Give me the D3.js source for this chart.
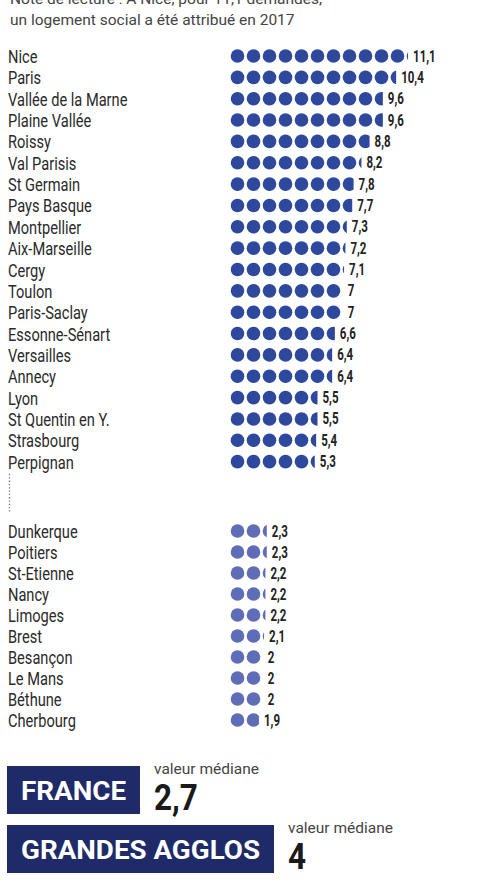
<!DOCTYPE html>
<html lang="fr">
<head>
  <meta charset="UTF-8">
  <title>Demandes par logement social attribué</title>
  <script src="https://d3js.org/d3.v7.min.js"></script>
  <style>
    body { margin: 0; background: #fff; }
  </style>
</head>
<body>
  <svg id="chart" width="494" height="882"></svg>

  <script>
    // Top group (highest ratios)
    const topNames = ['Nice', 'Paris', 'Vallée de la Marne', 'Plaine Vallée', 'Roissy', 'Val Parisis',
      'St Germain', 'Pays Basque', 'Montpellier', 'Aix-Marseille', 'Cergy', 'Toulon', 'Paris-Saclay',
      'Essonne-Sénart', 'Versailles', 'Annecy', 'Lyon', 'St Quentin en Y.', 'Strasbourg', 'Perpignan'];
    const topValues = [11.1, 10.4, 9.6, 9.6, 8.8, 8.2, 7.8, 7.7, 7.3, 7.2, 7.1, 7, 7, 6.6, 6.4, 6.4, 5.5, 5.5, 5.4, 5.3];

    // Bottom group (lowest ratios)
    const lowNames = ['Dunkerque', 'Poitiers', 'St-Etienne', 'Nancy', 'Limoges', 'Brest',
      'Besançon', 'Le Mans', 'Béthune', 'Cherbourg'];
    const lowValues = [2.3, 2.3, 2.2, 2.2, 2.2, 2.1, 2, 2, 2, 1.9];

    const medianLabels = ['FRANCE', 'GRANDES AGGLOS'];
    const medianValues = [2.7, 4];

    const noteLines = ['Note de lecture : A Nice, pour 11,1 demandes,',
      'un logement social a été attribué en 2017'];

    const fmt = v => String(v).replace('.', ',');

    const svg = d3.select('#chart');

    // note at the top (first line cut by the frame)
    svg.selectAll('text.note')
      .data(noteLines)
      .enter().append('text')
      .attr('class', 'note')
      .attr('x', 10)
      .attr('y', (d, i) => 4 + i * 20.5)
      .style('font-family', 'Roboto, sans-serif')
      .style('font-size', '15.5px')
      .style('fill', '#444')
      .text(d => d);

    // dot geometry
    const r = 6.8;
    const step = 16;
    const cx0 = 237.5;
    const xDot = d3.scaleLinear().domain([0, 1]).range([cx0, cx0 + step]);
    // right end of the last (possibly partial) dot
    const endX = v => xDot(Math.floor(v)) - r + (v - Math.floor(v)) * 2 * r;

    // helper to squeeze a font horizontally
    function condense(sel, factor) {
      sel.attr('transform', function() {
        const x = +d3.select(this).attr('x'), y = +d3.select(this).attr('y');
        return `translate(${x},${y}) scale(${factor},1)`;
      }).attr('x', 0).attr('y', 0);
    }

    function drawGroup(names, values, yStart, rowH, color, id) {
      const y = d3.scaleLinear().domain([0, 1]).range([yStart, yStart + rowH]);
      const g = svg.append('g');
      const rows = g.selectAll('g.row')
        .data(names.map((n, i) => ({ name: n, value: values[i], i })))
        .enter().append('g')
        .attr('class', 'row');

      rows.append('clipPath')
        .attr('id', d => `clip-${id}-${d.i}`)
        .append('rect')
        .attr('x', cx0 - r - 1)
        .attr('y', d => y(d.i) - r - 1)
        .attr('width', d => endX(d.value) - (cx0 - r - 1))
        .attr('height', 2 * r + 2);

      rows.each(function(d) {
        const n = Math.ceil(d.value);
        d3.select(this).append('g')
          .attr('clip-path', `url(#clip-${id}-${d.i})`)
          .selectAll('circle')
          .data(d3.range(n))
          .enter().append('circle')
          .attr('cx', k => xDot(k))
          .attr('cy', y(d.i))
          .attr('r', r)
          .style('fill', color);
      });

      const names_ = rows.append('text')
        .attr('x', 8)
        .attr('y', d => y(d.i) + 7)
        .style('font-family', 'Roboto, sans-serif')
        .style('font-size', '19px')
        .style('fill', '#2a2a2a')
        .text(d => d.name);
      condense(names_, 0.77);

      const vals = rows.append('text')
        .attr('x', d => endX(d.value) + 5)
        .attr('y', d => y(d.i) + 5.5)
        .style('font-family', 'Roboto, sans-serif')
        .style('font-size', '16px')
        .style('font-weight', 'bold')
        .style('fill', '#222')
        .text(d => fmt(d.value));
      condense(vals, 0.72);
    }

    drawGroup(topNames, topValues, 56, 21.35, '#2e489e', 'a');
    drawGroup(lowNames, lowValues, 531, 21, '#5f6cb7', 'b');

    // dotted separator
    svg.append('line')
      .attr('x1', 9.5).attr('x2', 9.5)
      .attr('y1', 474).attr('y2', 512)
      .style('stroke', '#777')
      .style('stroke-width', 1.3)
      .style('stroke-dasharray', '1.3,2');

    // median boxes
    const boxes = [
      { x: 7, y: 766, w: 133, h: 48 },
      { x: 7, y: 825, w: 267, h: 48 }
    ];
    const mg = svg.selectAll('g.median')
      .data(medianLabels.map((l, i) => ({ label: l, value: medianValues[i], b: boxes[i] })))
      .enter().append('g')
      .attr('class', 'median');

    mg.append('rect')
      .attr('x', d => d.b.x).attr('y', d => d.b.y)
      .attr('width', d => d.b.w).attr('height', d => d.b.h)
      .style('fill', '#1f2a68');

    mg.append('text')
      .attr('x', d => d.b.x + d.b.w / 2)
      .attr('y', d => d.b.y + 34)
      .attr('text-anchor', 'middle')
      .style('font-family', 'Roboto, sans-serif')
      .style('font-weight', 'bold')
      .style('font-size', '26px')
      .style('fill', '#fff')
      .text(d => d.label)
      .attr('textLength', d => d.b.w - 28)
      .attr('lengthAdjust', 'spacingAndGlyphs');

    mg.append('text')
      .attr('x', d => d.b.x + d.b.w + 14)
      .attr('y', d => d.b.y + 8)
      .style('font-family', 'Roboto, sans-serif')
      .style('font-size', '15.5px')
      .style('fill', '#444')
      .text('valeur médiane');

    const big = mg.append('text')
      .attr('x', d => d.b.x + d.b.w + 14)
      .attr('y', d => d.b.y + 44)
      .style('font-family', 'Roboto, sans-serif')
      .style('font-weight', 'bold')
      .style('font-size', '37px')
      .style('fill', '#1a1a1a')
      .text(d => fmt(d.value));
    condense(big, 0.85);
  </script>
</body>
</html>
